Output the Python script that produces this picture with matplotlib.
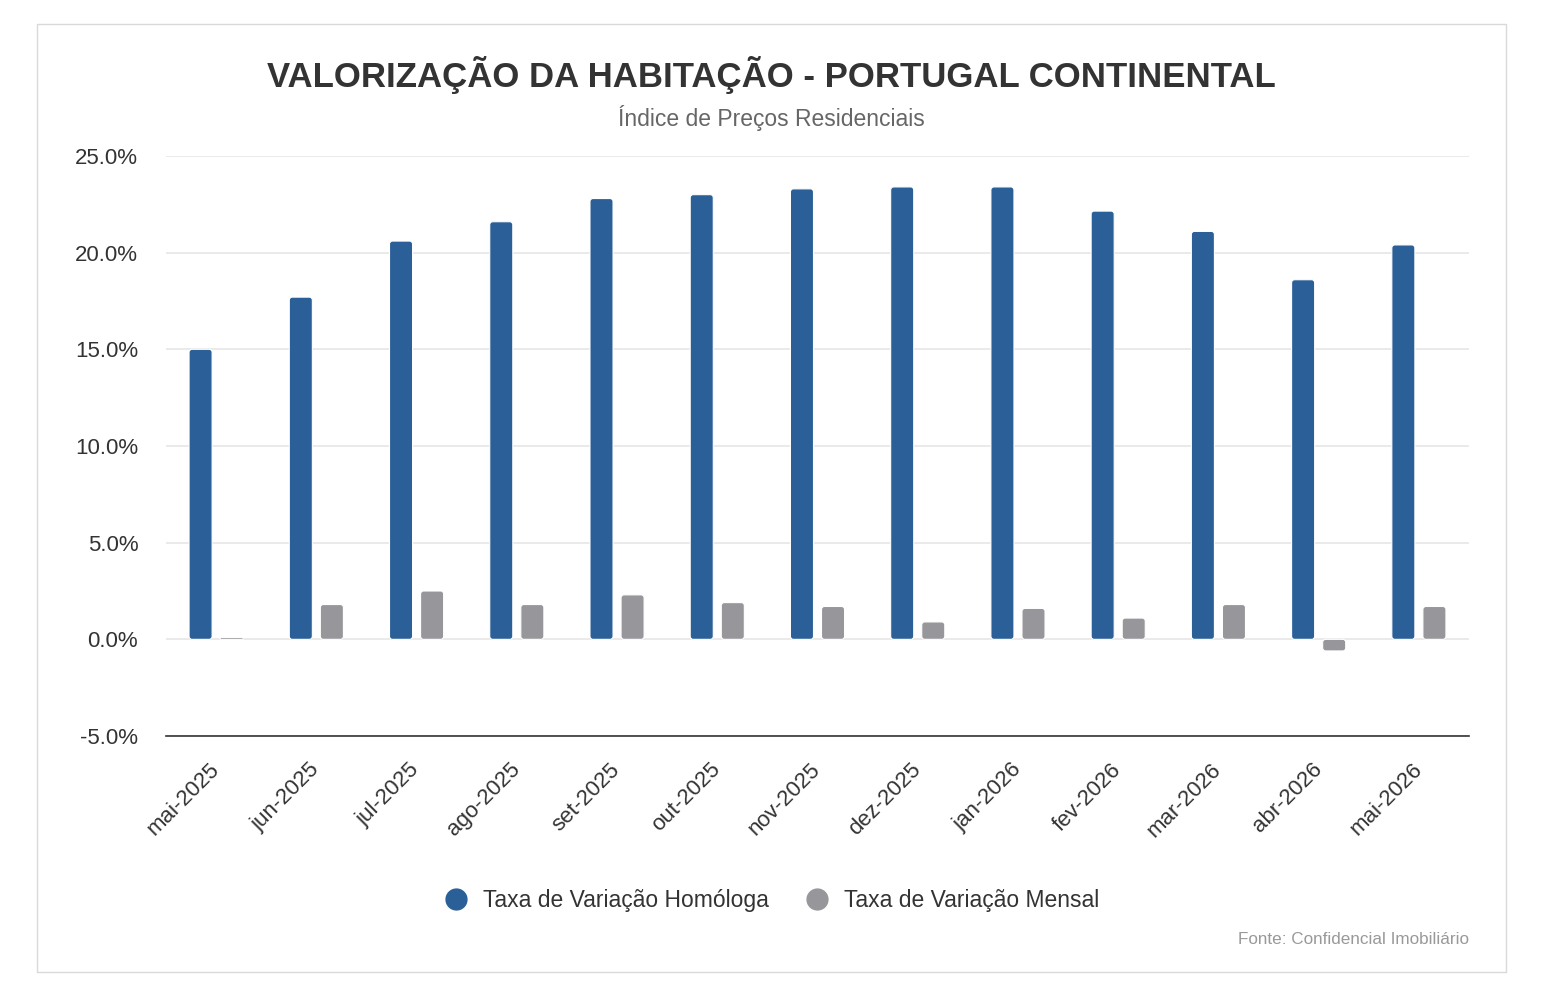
import matplotlib
matplotlib.use("Agg")
import matplotlib.pyplot as plt
from matplotlib.lines import Line2D
from matplotlib.patches import Rectangle, FancyBboxPatch
import numpy as np

categories = ["mai-2025", "jun-2025", "jul-2025", "ago-2025", "set-2025", "out-2025",
              "nov-2025", "dez-2025", "jan-2026", "fev-2026", "mar-2026", "abr-2026", "mai-2026"]
homologa = [15.0, 17.7, 20.6, 21.6, 22.8, 23.0, 23.3, 23.4, 23.4, 22.15, 21.1, 18.6, 20.4]
mensal = [0.1, 1.8, 2.5, 1.8, 2.3, 1.9, 1.7, 0.9, 1.6, 1.1, 1.8, -0.6, 1.7]
yticks = [-5, 0, 5, 10, 15, 20, 25]

BLUE = "#2a5f98"
GRAY = "#97979b"
TXT = "#333333"

plt.rcParams['font.family'] = ['Liberation Sans', 'DejaVu Sans']

fig = plt.figure(figsize=(15.42, 10.06), dpi=100)
fig.patches.append(Rectangle((37/1542, 1-972/1006), (1506-37)/1542, (972-24)/1006,
                             transform=fig.transFigure, fill=False, edgecolor="#d9d9d9", lw=1))

ax = fig.add_axes([166/1542, 1-736/1006, 1303/1542, 580/1006])
x = np.arange(len(categories))
w = 0.23
ax.set_xlim(-0.5, len(categories) - 0.5)
ax.set_ylim(-5, 25)

# pixel scale for rounded corners
x_per_px = len(categories) / 1303
y_per_px = 30 / 580
aspect = y_per_px / x_per_px
r = 3 * x_per_px

def rounded_bars(xs, vals, color):
    bars = ax.bar(xs, vals, width=w, color=color, zorder=3)
    for b in bars:
        bx, by = b.get_x(), b.get_y()
        bw, bh = b.get_width(), b.get_height()
        b.set_visible(False)
        if bh < 0:
            by, bh = by + bh, -bh
        rs = min(r, bh / aspect / 2) if bh > 0 else 0
        p = FancyBboxPatch((bx, by), bw, bh, boxstyle=f"round,pad=0,rounding_size={rs}",
                           mutation_aspect=aspect, facecolor=color, edgecolor="white",
                           linewidth=0.8, zorder=3)
        ax.add_patch(p)

rounded_bars(x - 0.155, homologa, BLUE)
rounded_bars(x + 0.155, mensal, GRAY)

ax.set_yticks(yticks)
ax.set_yticklabels([f"{v:.1f}%" for v in yticks], fontsize=16, color=TXT)
ax.grid(axis="y", color="#e6e6e6", lw=1.2, zorder=0)
ax.set_axisbelow(True)
ax.set_xticks(x)
ax.set_xticklabels(categories, rotation=45, ha="right", va="center", rotation_mode="anchor",
                   fontsize=16, color=TXT)
ax.tick_params(axis="y", length=0, pad=20)
ax.tick_params(axis="x", length=0, pad=22)
for s in ["top", "right", "left"]:
    ax.spines[s].set_visible(False)
ax.spines["bottom"].set_color("#333333")
ax.spines["bottom"].set_linewidth(1.2)

fig.text(0.5, 1-75/1006, "VALORIZAÇÃO DA HABITAÇÃO - PORTUGAL CONTINENTAL", ha="center", va="center",
         fontsize=25, fontweight="bold", color=TXT)
fig.text(0.5, 1-118/1006, "Índice de Preços Residenciais", ha="center", va="center",
         fontsize=16.5, color="#666666")
fig.text(1469/1542, 1-939/1006, "Fonte: Confidencial Imobiliário", ha="right", va="center",
         fontsize=12.3, color="#999999")

handles = [Line2D([], [], marker="o", ls="", markersize=15, color=BLUE),
           Line2D([], [], marker="o", ls="", markersize=15, color=GRAY)]
fig.legend(handles, ["Taxa de Variação Homóloga", "Taxa de Variação Mensal"], loc="center",
           bbox_to_anchor=(0.5 - 5/1542, 1-901/1006), ncol=2, frameon=False, fontsize=16.5,
           handletextpad=0.2, columnspacing=1.08, labelcolor=TXT)

fig.savefig("out.png", dpi=100)
